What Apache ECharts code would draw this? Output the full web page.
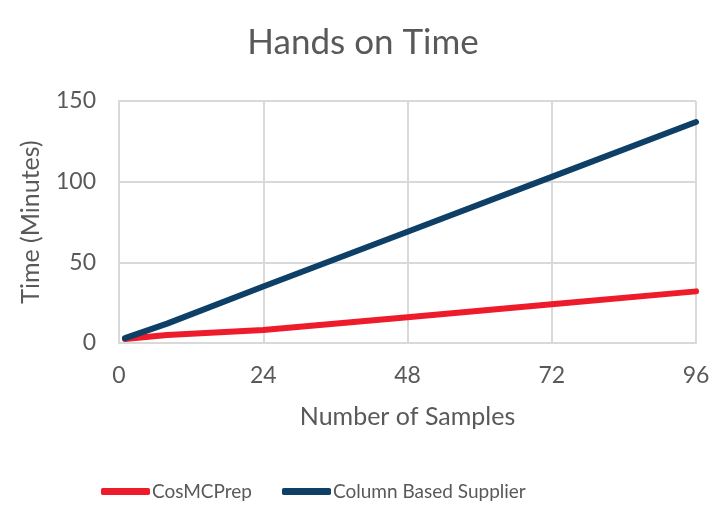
<!DOCTYPE html>
<html>
<head>
<meta charset="utf-8">
<script src="https://cdn.jsdelivr.net/npm/echarts@6/dist/echarts.min.js"></script>
<style>html,body{margin:0;padding:0;background:#fff}#c{width:726px;height:521px}</style>
</head>
<body>
<div id="c"></div>
<script>
const samples = [1, 8, 24, 48, 72, 96];
const cosmcprep = [2.5, 5, 8, 16, 24, 32];
const columnBased = [3, 12, 35, 69, 103, 137];
const seriesNames = ['CosMCPrep', 'Column Based Supplier'];
const xTicks = [0, 24, 48, 72, 96];
const yTicks = [0, 50, 100, 150];

const font = 'Lato, "Open Sans", sans-serif';
const txt = '#595959';
const chart = echarts.init(document.getElementById('c'));
chart.setOption({
  animation: false,
  backgroundColor: '#fff',
  title: {
    text: 'Hands on Time', left: 'center', top: 20,
    textStyle: {color: txt, fontSize: 35, fontWeight: 'normal', fontFamily: font}
  },
  grid: {left: 119, right: 30, top: 101, bottom: 178},
  legend: {
    bottom: 15, left: 96, itemGap: 30, itemWidth: 49, itemHeight: 7,
    icon: 'roundRect',
    textStyle: {color: txt, fontSize: 19, fontFamily: font, padding: [0, 0, 0, -3]},
    data: seriesNames
  },
  xAxis: {
    type: 'value', min: xTicks[0], max: xTicks[xTicks.length - 1], interval: 24,
    name: 'Number of Samples', nameLocation: 'middle', nameGap: 61,
    nameTextStyle: {color: txt, fontSize: 25, fontFamily: font},
    axisLine: {show: true, lineStyle: {color: '#d9d9d9', width: 2}},
    axisTick: {show: false},
    axisLabel: {color: txt, fontSize: 23, fontFamily: font, margin: 21},
    splitLine: {show: true, lineStyle: {color: '#d9d9d9', width: 2}}
  },
  yAxis: {
    type: 'value', min: yTicks[0], max: yTicks[yTicks.length - 1], interval: 50,
    name: 'Time (Minutes)', nameLocation: 'middle', nameGap: 76,
    nameTextStyle: {color: txt, fontSize: 25, fontFamily: font},
    axisLine: {show: true, lineStyle: {color: '#d9d9d9', width: 2}},
    axisTick: {show: false},
    axisLabel: {color: txt, fontSize: 23, fontFamily: font, margin: 23},
    splitLine: {show: true, lineStyle: {color: '#d9d9d9', width: 2}}
  },
  series: [
    {
      name: seriesNames[0], type: 'line', showSymbol: false, symbol: 'none',
      data: samples.map((x, i) => [x, cosmcprep[i]]),
      color: '#ee1c2b',
      lineStyle: {color: '#ee1c2b', width: 6, cap: 'round', join: 'round'},
      z: 3
    },
    {
      name: seriesNames[1], type: 'line', showSymbol: false, symbol: 'none',
      data: samples.map((x, i) => [x, columnBased[i]]),
      color: '#0e3f67',
      lineStyle: {color: '#0e3f67', width: 6, cap: 'round', join: 'round'},
      z: 4
    }
  ]
});
</script>
</body>
</html>
